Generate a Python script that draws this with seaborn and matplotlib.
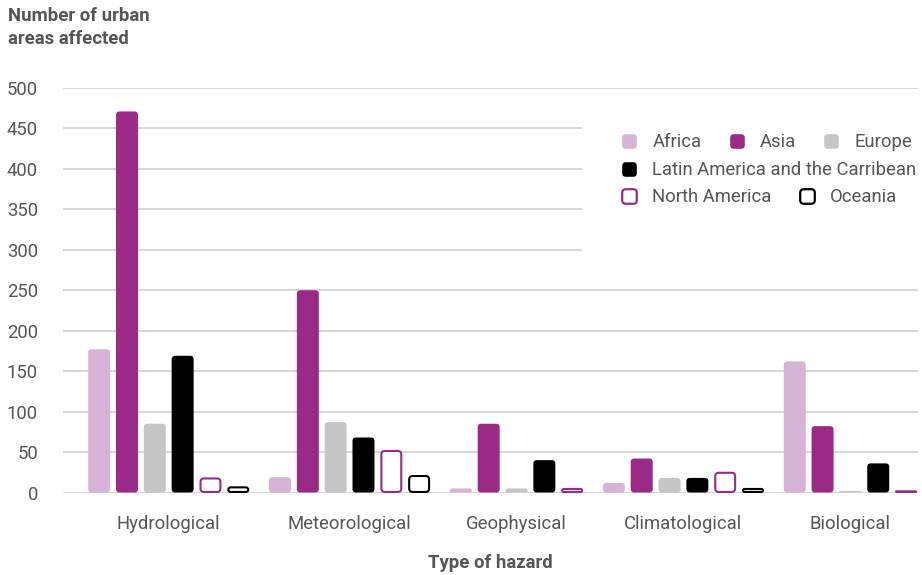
import numpy as np
import pandas as pd
import matplotlib
matplotlib.use("Agg")
import matplotlib.pyplot as plt
import matplotlib.patches as mpatches
from matplotlib.lines import Line2D
import seaborn as sns

# ---- data -------------------------------------------------------------
hazards = ["Hydrological", "Meteorological", "Geophysical", "Climatological", "Biological"]
regions = ["Africa", "Asia", "Europe", "Latin America and the Carribean",
           "North America", "Oceania"]

africa = [177, 19, 5, 12, 162]
asia = [471, 250, 85, 42, 82]
europe = [85, 87, 5, 18, 2]
latin_america = [169, 68, 40, 18, 36]
north_america = [18, 52, 5, 25, 2]
oceania = [7, 21, 0, 5, 0]

y_ticks = [0, 50, 100, 150, 200, 250, 300, 350, 400, 450, 500]

# ---- styling ----------------------------------------------------------
values_by_region = [africa, asia, europe, latin_america, north_america, oceania]
PURPLE = "#9b2a86"
line_colors = ["#d7b3d7", PURPLE, "#c6c6c6", "#000000", PURPLE, "#000000"]
outlined = [False, False, False, False, True, True]
TEXT = "#555555"
FS = 13.3
GROUP_GAP = 0.5  # extra space between hazard groups, in bar slots

# Bars with no events are left out and the remaining bars of the group close up
records, centers = [], []
cursor = 0.0
for i, hz in enumerate(hazards):
    slots = []
    for reg, vals in zip(regions, values_by_region):
        if vals[i] > 0:
            records.append({"hazard": hz, "region": reg, "pos": cursor, "value": vals[i]})
            slots.append(cursor)
            cursor += 1
    centers.append(float(np.mean(slots)))
    cursor += GROUP_GAP
df = pd.DataFrame(records)

sns.set_theme(style="white")
plt.rcParams["font.family"] = ["Roboto", "DejaVu Sans"]

W, H = 922, 575
fig = plt.figure(figsize=(W / 100, H / 100), dpi=100)
fig.patch.set_facecolor("white")
ax = fig.add_axes([63 / W, 1 - 492.5 / H, (918 - 63) / W, (492.5 - 88) / H])

sns.barplot(data=df, x="pos", y="value", hue="region", hue_order=regions,
            palette=dict(zip(regions, line_colors)), native_scale=True,
            dodge=False, width=0.79, errorbar=None, legend=False,
            orient="x", saturation=1, ax=ax)

ax.set_xlim(df["pos"].min() - 1.3, df["pos"].max() + 0.43)
ax.set_ylim(0, 500)

# ---- rounded bar corners ----------------------------------------------
x_ppu = ax.transData.transform((1, 0))[0] - ax.transData.transform((0, 0))[0]
y_ppu = ax.transData.transform((0, 1))[1] - ax.transData.transform((0, 0))[1]
aspect = x_ppu / y_ppu
EDGE_LW = 1.5
for reg, col, hollow, cont in zip(regions, line_colors, outlined, ax.containers):
    for bar in cont:
        x0, y0 = bar.get_x(), bar.get_y()
        w, h = bar.get_width(), bar.get_height()
        if hollow:
            inset = EDGE_LW * 100 / 72 / 2
            x0 += inset / x_ppu
            w -= 2 * inset / x_ppu
            h = max(h - inset / y_ppu, 0.6 / y_ppu)
            y0 += inset / y_ppu * 0.5
        r_px = min(3.5, w * x_ppu / 2, max(h * y_ppu / 2, 0.3))
        patch = mpatches.FancyBboxPatch(
            (x0, y0), w, h,
            boxstyle=mpatches.BoxStyle.Round(pad=0, rounding_size=r_px / x_ppu),
            mutation_aspect=aspect,
            facecolor="white" if hollow else col,
            edgecolor=col,
            linewidth=EDGE_LW if hollow else 0,
            zorder=2)
        ax.add_patch(patch)
        bar.set_visible(False)

# ---- axes ---------------------------------------------------------------
sns.despine(ax=ax, left=True, bottom=True)
ax.set_axisbelow(True)
ax.yaxis.grid(True, color="#d3d3d3", linewidth=1.3)
ax.xaxis.grid(False)
ax.set_yticks(y_ticks, [str(t) for t in y_ticks])
ax.set_xticks(centers, hazards)
ax.tick_params(axis="y", length=0, pad=18, labelsize=FS, labelcolor=TEXT)
ax.tick_params(axis="x", length=0, pad=16.5, labelsize=FS, labelcolor=TEXT)
ax.set_ylabel("")
ax.set_xlabel("Type of hazard", fontsize=FS, fontweight="bold", color=TEXT, labelpad=14.5)

fig.text(8 / W, 1 - 7 / H, "Number of urban\nareas affected", ha="left", va="top",
         fontsize=FS, fontweight="bold", color=TEXT, linespacing=1.38)

# ---- legend -------------------------------------------------------------
# white panel keeps the grid lines away from the legend text
ax.add_patch(mpatches.Rectangle((582 / W, 1 - 265 / H), (W - 582) / W, 160 / H,
                                transform=fig.transFigure, facecolor="white",
                                edgecolor="none", zorder=0.8))

sq = mpatches.BoxStyle.Round(pad=0, rounding_size=0.25)(-0.5, -0.5, 1, 1, 1.0)
handles = {}
for reg, col, hollow in zip(regions, line_colors, outlined):
    handles[reg] = Line2D([], [], linestyle="", marker=sq, markersize=10.5,
                          markerfacecolor="white" if hollow else col,
                          markeredgecolor=col,
                          markeredgewidth=1.6 if hollow else 0)

legend_rows = [regions[:3], regions[3:4], regions[4:]]
row_y = [142, 170, 197]
for row, yy in zip(legend_rows, row_y):
    fig.legend(handles=[handles[r] for r in row], labels=row,
               loc="center left", bbox_to_anchor=(622 / W, 1 - yy / H),
               bbox_transform=fig.transFigure, ncol=len(row), frameon=False,
               handlelength=0.8, handletextpad=0.85, columnspacing=1.5,
               borderpad=0, borderaxespad=0, fontsize=FS, labelcolor=TEXT)

fig.savefig("out.png", dpi=100)
